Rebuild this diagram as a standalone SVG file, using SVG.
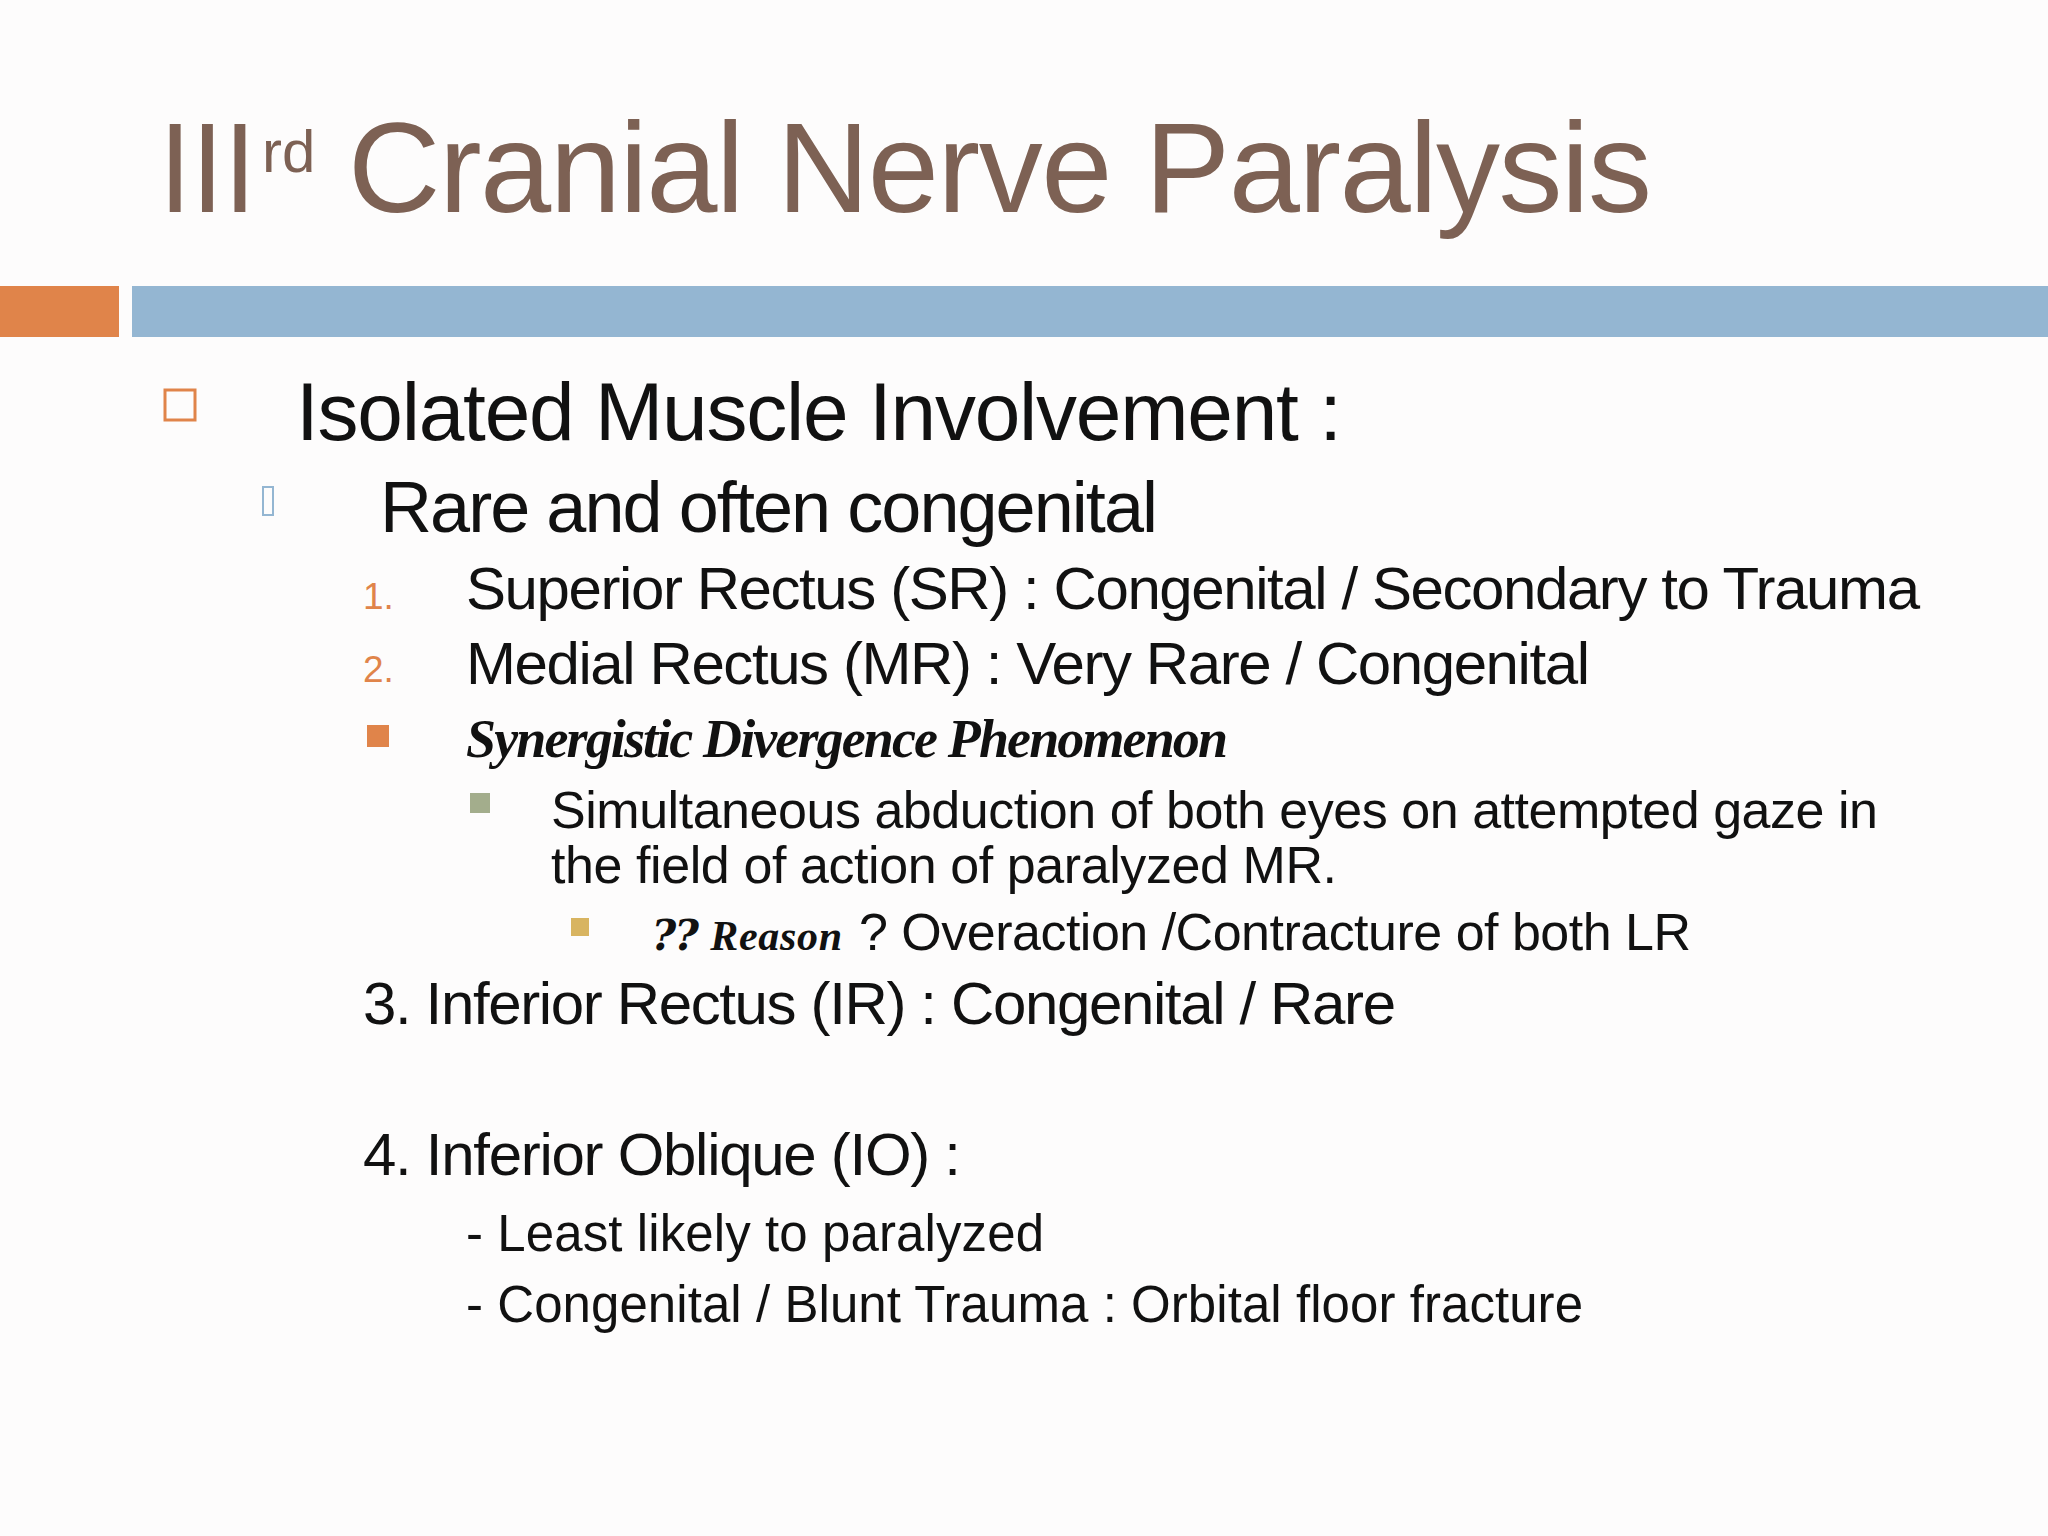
<svg xmlns="http://www.w3.org/2000/svg" width="2048" height="1536" viewBox="0 0 2048 1536">
<style>
text{font-family:"Liberation Sans",Arial,sans-serif;fill:#111}
.t{fill:#7d6154}
.n{fill:#e0844a}
.g{font-family:"Liberation Serif","DejaVu Serif",serif;font-style:italic;font-weight:bold}
</style>
<rect width="2048" height="1536" fill="#fdfcfc"/>
<g id="title">
<text class="t" x="159" y="212" font-size="128" textLength="97" lengthAdjust="spacingAndGlyphs">III</text>
<text class="t" x="262" y="172" font-size="60">rd</text>
<text class="t" x="348" y="212" font-size="128" textLength="1304">Cranial Nerve Paralysis</text>
</g>
<g id="bars">
<rect x="0" y="286" width="119" height="51" fill="#e0844a"/>
<rect x="132" y="286" width="1916" height="51" fill="#94b6d2"/>
</g>
<g id="content">
<rect x="165" y="390" width="30" height="30" fill="none" stroke="#e0844a" stroke-width="3"/>
<text x="296" y="440" font-size="82" textLength="1046">Isolated Muscle Involvement :</text>
<rect x="263" y="487" width="10" height="28" fill="none" stroke="#94b6d2" stroke-width="2"/>
<text x="380" y="532" font-size="72" textLength="778">Rare and often congenital</text>
<text class="n" x="363" y="609" font-size="37">1.</text>
<text x="466" y="609" font-size="60" textLength="1454">Superior Rectus (SR) : Congenital / Secondary to Trauma</text>
<text class="n" x="363" y="682" font-size="37">2.</text>
<text x="466" y="684" font-size="60" textLength="1124">Medial Rectus (MR) : Very Rare / Congenital</text>
<rect x="367" y="725" width="22" height="22" fill="#e0844a"/>
<text class="g" x="466" y="757" font-size="54" textLength="762">Synergistic Divergence Phenomenon</text>
<rect x="470" y="793" width="20" height="20" fill="#a3ad8c"/>
<text x="551" y="828" font-size="52" textLength="1327">Simultaneous abduction of both eyes on attempted gaze in</text>
<text x="551" y="883" font-size="52" textLength="786">the field of action of paralyzed MR.</text>
<rect x="571" y="918" width="18" height="18" fill="#d8b460"/>
<text class="g" x="653" y="950" font-size="42" textLength="189">⁇ Reason</text>
<text x="859" y="950" font-size="52" textLength="832">? Overaction /Contracture of both LR</text>
<text x="363" y="1024" font-size="60" textLength="1033">3. Inferior Rectus (IR) : Congenital / Rare</text>
<text x="363" y="1175" font-size="60" textLength="598">4. Inferior Oblique (IO) :</text>
<text x="466" y="1251" font-size="51" textLength="578">- Least likely to paralyzed</text>
<text x="466" y="1322" font-size="51" textLength="1117">- Congenital / Blunt Trauma : Orbital floor fracture</text>
</g>
</svg>
